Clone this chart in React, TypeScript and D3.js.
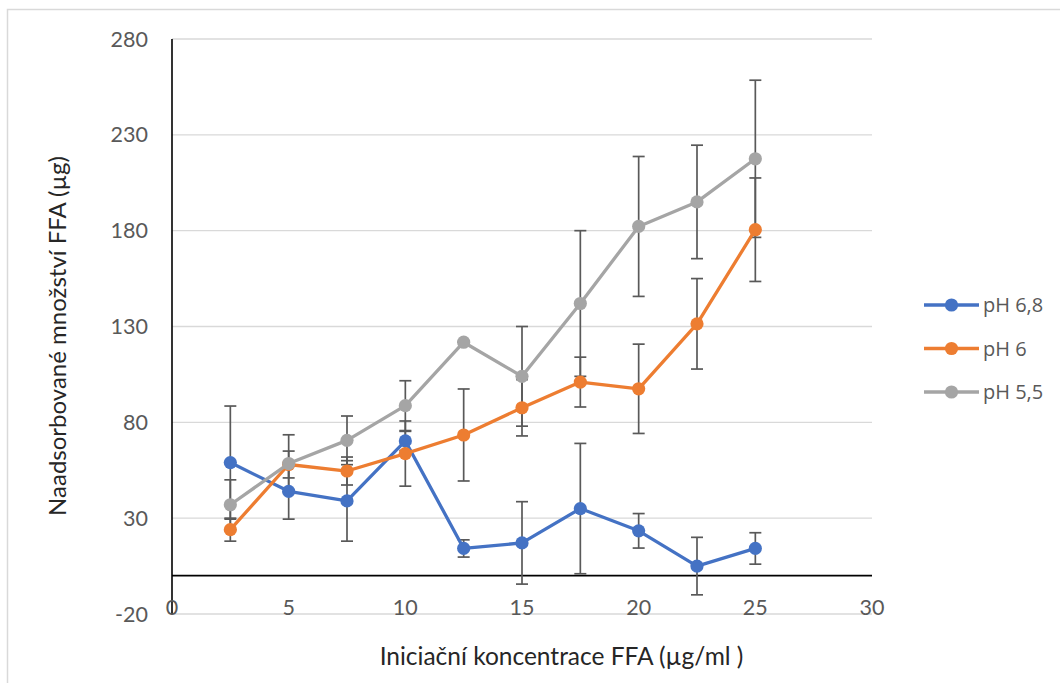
import React from "react";
import * as d3 from "d3";

// Initial FFA concentration (µg/ml)
const concentrations = [2.5, 5, 7.5, 10, 12.5, 15, 17.5, 20, 22.5, 25];

// Adsorbed FFA (µg) and error-bar half widths per pH series
const ph68 = [59, 44, 39, 70.3, 14.2, 17.1, 35, 23.4, 5, 14.2];
const ph68Err = [29.5, 14.5, 21, 5, 4.5, 21.5, 34, 9, 15, 8.2];

const ph6 = [24, 58, 54.6, 63.7, 73.4, 87.6, 101, 97.5, 131.4, 180.5];
const ph6Err = [6, 7, 7.3, 17, 24, 14.7, 13, 23.3, 23.6, 27];

const ph55 = [37, 58.5, 70.6, 88.7, 121.8, 104, 142, 182.2, 195, 217.5];
const ph55Err = [13, 15, 12.7, 13, 0, 26, 38, 36.5, 29.6, 41];

const seriesNames = ["pH 6,8", "pH 6", "pH 5,5"];
const seriesColors = ["#4472C4", "#ED7D31", "#A5A5A5"];

const xTicks = [0, 5, 10, 15, 20, 25, 30];
const yTicks = [-20, 30, 80, 130, 180, 230, 280];

const xTitle = "Iniciační koncentrace FFA (µg/ml )";
const yTitle = "Naadsorbované množství FFA (µg)";

const W = 1060;
const H = 683;
const plot = { left: 172, right: 872, top: 39, bottom: 614 };

export default function App() {
  const x = d3.scaleLinear().domain([0, 30]).range([plot.left, plot.right]);
  const y = d3.scaleLinear().domain([-20, 280]).range([plot.bottom, plot.top]);

  const series = [
    { name: seriesNames[0], color: seriesColors[0], values: ph68, err: ph68Err },
    { name: seriesNames[1], color: seriesColors[1], values: ph6, err: ph6Err },
    { name: seriesNames[2], color: seriesColors[2], values: ph55, err: ph55Err },
  ];

  const line = d3
    .line<number>()
    .x((_, i) => x(concentrations[i]))
    .y((d) => y(d));

  const tickFont = "Lato, 'Open Sans', sans-serif";
  const capHalf = 6;

  return (
    <svg
      width={W}
      height={H}
      style={{ position: "absolute", left: 0, top: 0, background: "#fff" }}
    >
      <rect x={7.5} y={9.5} width={1100} height={700} fill="#fff" stroke="#d9d9d9" strokeWidth={1.5} />

      {/* horizontal gridlines */}
      {yTicks.map((t) => (
        <line key={"g" + t} x1={plot.left} x2={plot.right} y1={y(t)} y2={y(t)} stroke="#d9d9d9" strokeWidth={1.4} />
      ))}

      {/* axes */}
      <line x1={x(0)} x2={x(0)} y1={plot.top} y2={plot.bottom} stroke="#000" strokeWidth={1.6} />
      <line x1={plot.left} x2={plot.right} y1={y(0)} y2={y(0)} stroke="#000" strokeWidth={1.6} />

      {/* tick labels */}
      {yTicks.map((t) => (
        <text key={"yt" + t} x={148} y={y(t)} dy="0.35em" textAnchor="end" fontFamily={tickFont} fontSize={21.5} fill="#595959">
          {t}
        </text>
      ))}
      {xTicks.map((t) => (
        <text key={"xt" + t} x={x(t)} y={607} dy="0.35em" textAnchor="middle" fontFamily={tickFont} fontSize={21.5} fill="#595959">
          {t}
        </text>
      ))}

      {/* axis titles */}
      <text x={561.5} y={656} dy="0.35em" textAnchor="middle" fontFamily={tickFont} fontSize={24.5} fill="#262626">
        {xTitle}
      </text>
      <text
        transform={`translate(58, 336) rotate(-90)`}
        dy="0.35em"
        textAnchor="middle"
        fontFamily={tickFont}
        fontSize={24}
        fill="#262626"
      >
        {yTitle}
      </text>

      {/* error bars */}
      {series.map((s) => (
        <g key={"e" + s.name} stroke="#595959" strokeWidth={1.7}>
          {s.values.map((v, i) => {
            const cx = x(concentrations[i]);
            const y1 = y(v + s.err[i]);
            const y2 = y(v - s.err[i]);
            return (
              <g key={i}>
                <line x1={cx} x2={cx} y1={y1} y2={y2} />
                <line x1={cx - capHalf} x2={cx + capHalf} y1={y1} y2={y1} />
                <line x1={cx - capHalf} x2={cx + capHalf} y1={y2} y2={y2} />
              </g>
            );
          })}
        </g>
      ))}

      {/* lines and markers */}
      {series.map((s) => (
        <g key={"s" + s.name}>
          <path d={line(s.values) || ""} fill="none" stroke={s.color} strokeWidth={3.3} strokeLinejoin="round" />
          {s.values.map((v, i) => (
            <circle key={i} cx={x(concentrations[i])} cy={y(v)} r={6.6} fill={s.color} />
          ))}
        </g>
      ))}

      {/* legend */}
      {series.map((s, i) => {
        const ly = 305 + i * 43.5;
        return (
          <g key={"l" + s.name}>
            <line x1={924} x2={979} y1={ly} y2={ly} stroke={s.color} strokeWidth={3.3} />
            <circle cx={951.5} cy={ly} r={6.6} fill={s.color} />
            <text x={983} y={ly} dy="0.35em" fontFamily="'Open Sans', sans-serif" fontSize={20} fill="#595959">
              {s.name}
            </text>
          </g>
        );
      })}
    </svg>
  );
}
